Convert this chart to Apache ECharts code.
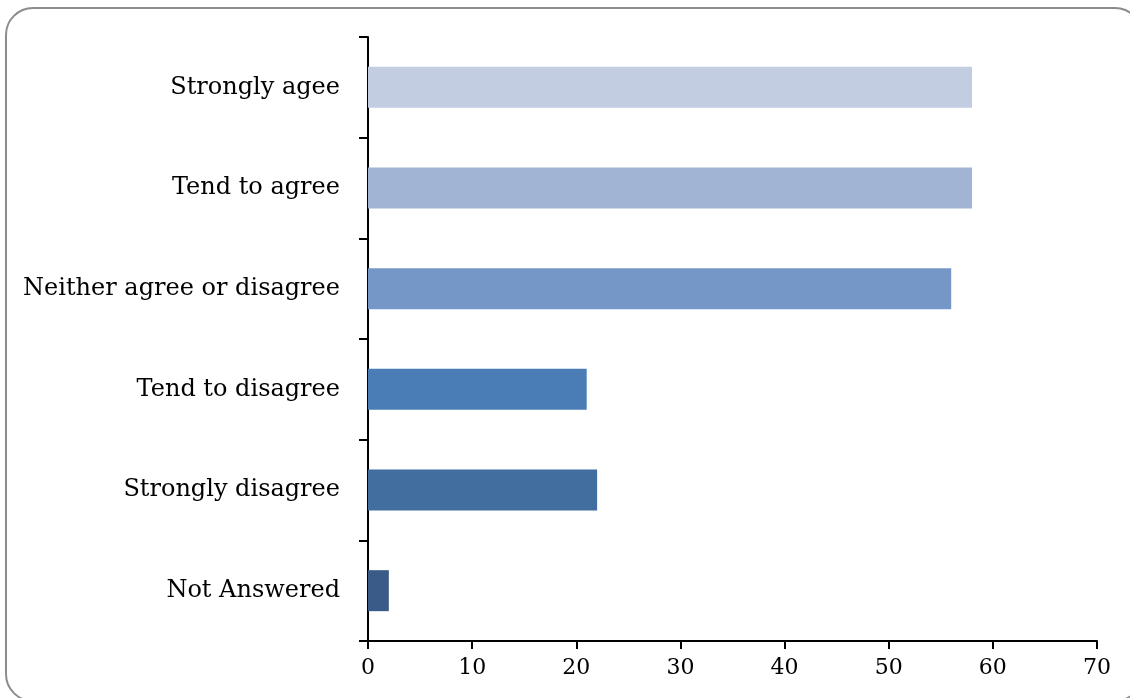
<!DOCTYPE html>
<html><head><meta charset="utf-8">
<script src="https://cdn.jsdelivr.net/npm/echarts@6/dist/echarts.min.js"></script>
<style>
html,body{margin:0;padding:0;background:#fff;overflow:hidden;}
#frame{position:absolute;left:5px;top:7px;width:1138px;height:695px;border:2px solid #8c8c8c;border-radius:28px;box-sizing:border-box;}
#c{position:absolute;left:0;top:0;width:1130px;height:698px;}
</style></head>
<body>
<div id="frame"></div>
<div id="c"></div>
<script>
const categories = ["Strongly agee","Tend to agree","Neither agree or disagree","Tend to disagree","Strongly disagree","Not Answered"];
const values = [58, 58, 56, 21, 22, 2];
const barColors = ["#C2CDE2","#A2B4D4","#7597C7","#4A7DB5","#426D9F","#3A5A88"];
const xTicks = [0,10,20,30,40,50,60,70];

const chart = echarts.init(document.getElementById('c'), null, {renderer:'canvas'});
chart.setOption({
  animation:false,
  backgroundColor:'transparent',
  grid:{left:368, right:33, top:37, bottom:57, containLabel:false},
  xAxis:{
    type:'value', min:xTicks[0], max:xTicks[xTicks.length-1], interval:10,
    axisLine:{show:true, lineStyle:{color:'#000', width:2}},
    axisTick:{show:true, length:8, lineStyle:{color:'#000', width:2}},
    splitLine:{show:false},
    axisLabel:{color:'#000', fontFamily:'DejaVu Serif', fontSize:22, margin:16}
  },
  yAxis:{
    type:'category', data:categories, inverse:true,
    axisLine:{show:true, lineStyle:{color:'#000', width:2}},
    axisTick:{show:true, length:9, lineStyle:{color:'#000', width:2}},
    axisLabel:{color:'#000', fontFamily:'DejaVu Serif', fontSize:24, margin:28}
  },
  series:[{
    type:'bar', barWidth:41,
    data: values.map((v,i)=>({value:v, itemStyle:{color:barColors[i]}}))
  }]
});
</script>
</body></html>
